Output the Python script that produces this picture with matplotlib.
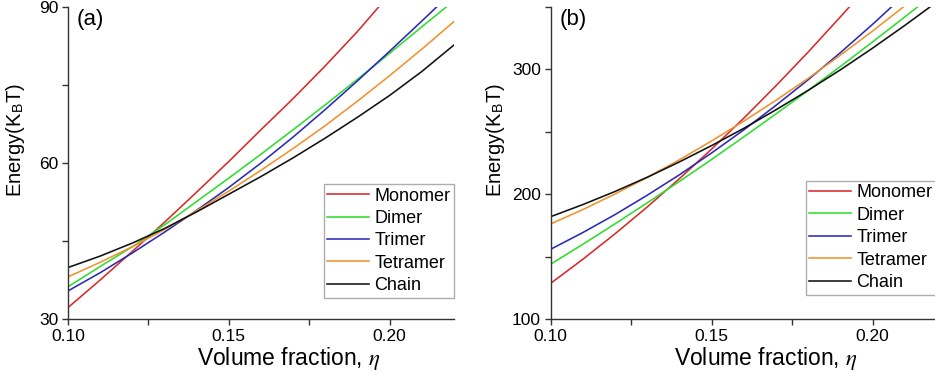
import matplotlib
matplotlib.use("Agg")
import matplotlib.pyplot as plt
from matplotlib.ticker import MultipleLocator, FormatStrFormatter

plt.rcParams['font.family'] = ['Liberation Sans', 'DejaVu Sans']
plt.rcParams['mathtext.fontset'] = 'stix'

# ---------------- data ----------------
eta = [0.10, 0.11, 0.12, 0.13, 0.14, 0.15, 0.16, 0.17, 0.18, 0.19, 0.20, 0.21, 0.22]
series_names = ["Monomer", "Dimer", "Trimer", "Tetramer", "Chain"]
series_colors = ["#d82a2a", "#2fdc2f", "#2a2ab8", "#f0922e", "#111111"]

# panel (a)
eta_a_mono = [0.10, 0.11, 0.12, 0.13, 0.14, 0.15, 0.16, 0.17, 0.18, 0.19, 0.197]
a_monomer = [32.2, 37.5, 43.0, 48.6, 54.4, 60.3, 66.4, 72.4, 78.7, 85.3, 90.3]
a_dimer = [36.2, 40.1, 43.9, 48.1, 52.6, 57.1, 61.7, 66.4, 71.2, 76.1, 81.1, 86.2, 91.2]
a_trimer = [35.4, 38.9, 42.7, 46.7, 50.9, 55.3, 60.0, 65.0, 70.3, 75.8, 81.5, 87.3, 93.2]
a_tetramer = [38.1, 40.9, 43.9, 47.2, 50.8, 54.6, 58.6, 62.8, 67.2, 71.9, 76.8, 81.9, 87.2]
a_chain = [39.9, 42.1, 44.6, 47.4, 50.6, 54.0, 57.4, 61.0, 64.8, 68.8, 73.0, 77.6, 82.7]

# panel (b)
eta_b_mono = [0.10, 0.11, 0.12, 0.13, 0.14, 0.15, 0.16, 0.17, 0.18, 0.19, 0.193]
b_monomer = [128.6, 147.9, 168.3, 189.8, 212.5, 236.2, 261.0, 287.0, 314.0, 342.2, 350.8]
b_dimer = [143.9, 159.9, 176.3, 193.1, 210.3, 227.9, 246.0, 264.4, 283.2, 302.4, 322.1, 342.1, 362.5]
b_trimer = [155.9, 169.3, 183.7, 199.2, 215.6, 233.1, 251.6, 271.3, 291.8, 313.5, 336.2, 360.0]
b_tetramer = [176.2, 187.7, 200.2, 213.5, 227.6, 242.7, 258.6, 275.3, 292.9, 311.5, 330.8, 351.0]
b_chain = [182.0, 191.7, 202.2, 213.6, 225.9, 239.0, 252.8, 267.7, 283.3, 299.7, 317.1, 335.3, 354.2]

x_ticks = [0.10, 0.15, 0.20]
a_yticks = [30, 60, 90]
b_yticks = [100, 200, 300]

# ---------------- figure ----------------
fig = plt.figure(figsize=(9.35, 3.75), dpi=100)
ax_a = fig.add_axes([68 / 935, 1 - 319 / 375, 386 / 935, 312 / 375])
ax_b = fig.add_axes([550.7 / 935, 1 - 319 / 375, 386.4 / 935, 312 / 375])

lw = 1.15
a_sets = [(eta_a_mono, a_monomer), (eta, a_dimer), (eta, a_trimer), (eta, a_tetramer), (eta, a_chain)]
b_sets = [(eta_b_mono, b_monomer), (eta, b_dimer), (eta[:len(b_trimer)], b_trimer),
          (eta[:len(b_tetramer)], b_tetramer), (eta, b_chain)]

for ax, sets in ((ax_a, a_sets), (ax_b, b_sets)):
    for (xs, ys), name, col in zip(sets, series_names, series_colors):
        ax.plot(xs, ys, color=col, lw=lw, label=name)

ax_a.set_ylim(30, 90)
ax_b.set_ylim(100, 350)
ax_a.set_yticks(a_yticks)
ax_b.set_yticks(b_yticks)
ax_a.yaxis.set_minor_locator(MultipleLocator(15))
ax_b.yaxis.set_minor_locator(MultipleLocator(50))

label_pos = {"(a)": (-0.105, 0.574, 0.571), "(b)": (-0.113, 0.574, 0.556)}
for ax, lab in ((ax_a, "(a)"), (ax_b, "(b)")):
    ax.set_xlim(0.10, 0.22)
    ax.set_xticks(x_ticks)
    ax.xaxis.set_minor_locator(MultipleLocator(0.025))
    ax.xaxis.set_major_formatter(FormatStrFormatter('%.2f'))
    for s in ("top", "right"):
        ax.spines[s].set_visible(False)
    for s in ("left", "bottom"):
        ax.spines[s].set_color("#333333")
        ax.spines[s].set_linewidth(1.0)
    ax.tick_params(which='both', direction='out', color="#333333", width=1.0)
    ax.tick_params(which='major', length=4, labelsize=12.5, pad=3)
    ax.tick_params(which='minor', length=4)
    ax.set_xlabel(r"Volume fraction, $\eta$", fontsize=16.5)
    ax.set_ylabel(r"Energy(K$_\mathregular{B}$T)", fontsize=14.5)
    yx, yy, xx = label_pos[lab]
    ax.yaxis.set_label_coords(yx, yy)
    ax.xaxis.set_label_coords(xx, -0.083)
    ax.text(0.022, 0.995, lab, transform=ax.transAxes, fontsize=16, va='top', ha='left')

leg_kw = dict(fontsize=13, frameon=True, fancybox=False, handlelength=2.3,
              handletextpad=0.3, labelspacing=0.3, borderpad=0.2, borderaxespad=0)
la = ax_a.legend(loc='lower right', bbox_to_anchor=(1.0, 0.068), **leg_kw)
lb = ax_b.legend(loc='lower left', bbox_to_anchor=(0.66, 0.078), **leg_kw)
for lg in (la, lb):
    lg.get_frame().set_edgecolor("#999999")
    lg.get_frame().set_linewidth(1.0)

fig.savefig("out.png", dpi=100)
